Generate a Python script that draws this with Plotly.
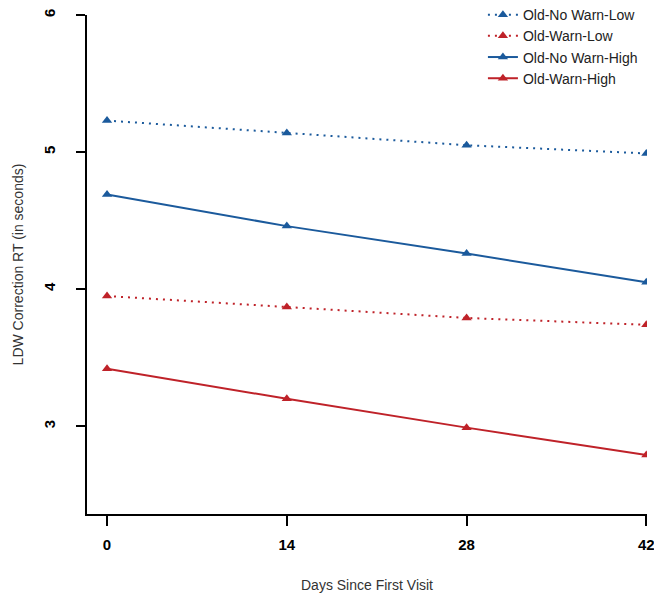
import plotly.graph_objects as go

days = [0, 14, 28, 42]
series_names = ["Old-No Warn-Low", "Old-Warn-Low", "Old-No Warn-High", "Old-Warn-High"]
no_warn_low = [5.23, 5.14, 5.05, 4.99]
warn_low = [3.95, 3.87, 3.79, 3.74]
no_warn_high = [4.69, 4.46, 4.26, 4.05]
warn_high = [3.42, 3.20, 2.99, 2.79]
x_ticks = [0, 14, 28, 42]
y_ticks = [3, 4, 5, 6]

BLUE = "#1b5a9c"
RED = "#bf2229"

styles = [
    (no_warn_low, BLUE, "2px,5px"),
    (warn_low, RED, "2px,5px"),
    (no_warn_high, BLUE, "solid"),
    (warn_high, RED, "solid"),
]

fig = go.Figure()
for name, (vals, color, dash) in zip(series_names, styles):
    fig.add_trace(go.Scatter(
        x=days, y=vals, name=name, mode="lines+markers",
        line=dict(color=color, width=2, dash=dash),
        marker=dict(symbol="triangle-up", size=9, color=color),
    ))

FONT = "Liberation Sans, Arial, sans-serif"

fig.update_layout(
    width=654, height=585,
    margin=dict(l=79, r=15, t=7, b=79, autoexpand=False),
    plot_bgcolor="white", paper_bgcolor="white",
    font=dict(family=FONT, color="#222"),
    showlegend=True,
    legend=dict(
        x=0.707, y=1.032, xref="paper", yref="paper",
        xanchor="left", yanchor="top",
        font=dict(size=14, color="#222"),
        bgcolor="rgba(0,0,0,0)", tracegroupgap=0,
        itemwidth=30,
    ),
    xaxis=dict(
        range=[-1.56, 42.05], tickvals=x_ticks, ticktext=[str(t) for t in x_ticks],
        showline=True, linecolor="black", linewidth=2, automargin=False,
        ticks="outside", ticklen=10, tickwidth=2, tickcolor="black",
        ticklabelstandoff=6,
        showgrid=False, zeroline=False,
        tickfont=dict(size=15, color="black", family=FONT, weight="bold"),
        title=dict(text="Days Since First Visit", font=dict(size=14, color="#333"), standoff=32),
    ),
    yaxis=dict(
        range=[2.36, 6.0], tickvals=y_ticks, ticktext=[str(t) for t in y_ticks],
        showline=True, linecolor="black", linewidth=2, automargin=False,
        ticks="outside", ticklen=9, tickwidth=2, tickcolor="black",
        ticklabelstandoff=15,
        showgrid=False, zeroline=False, tickangle=-90,
        tickfont=dict(size=15, color="black", family=FONT, weight="bold"),
        title=dict(text="LDW Correction RT (in seconds)", font=dict(size=14, color="#333"), standoff=14),
    ),
)

fig.write_html("out.html")
